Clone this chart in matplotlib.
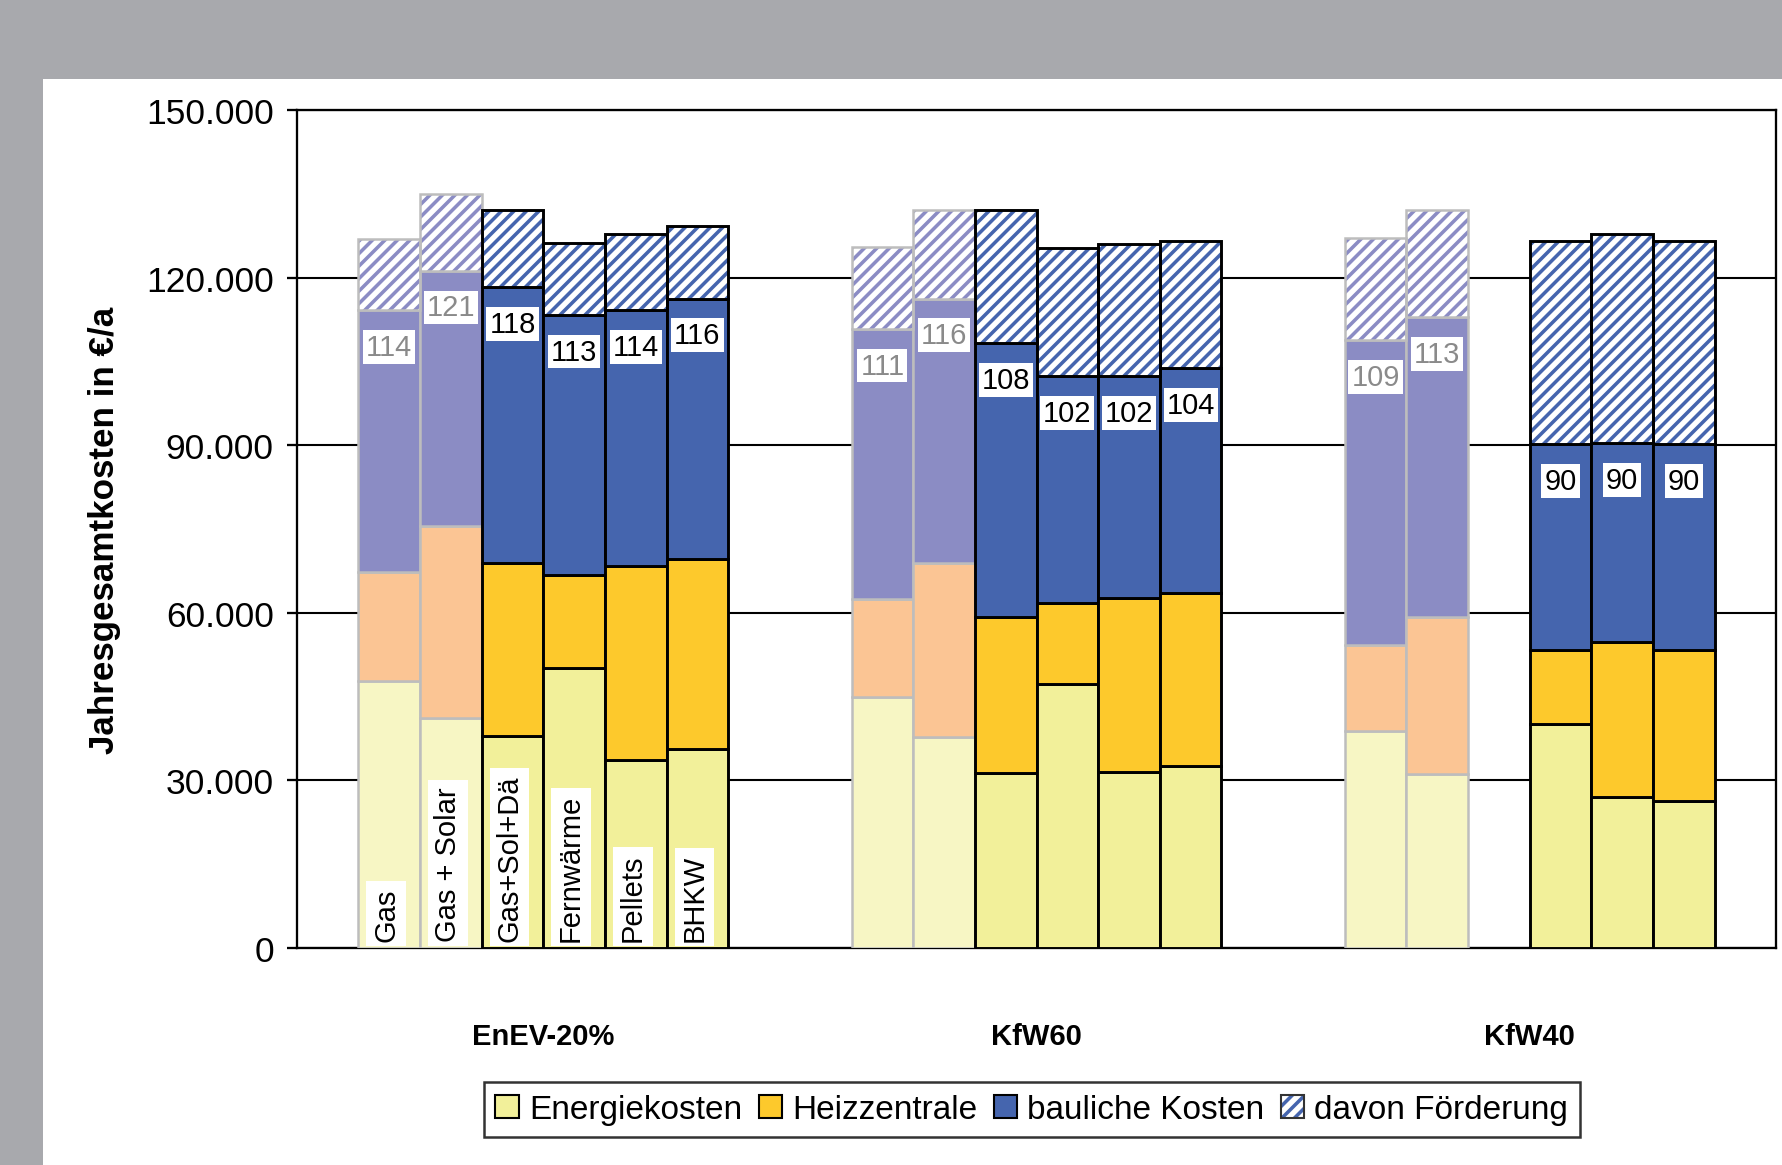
import numpy as np
import matplotlib.pyplot as plt
from matplotlib.patches import Rectangle, Patch
from matplotlib.ticker import FuncFormatter

plt.rcParams['font.family'] = ['Liberation Sans', 'DejaVu Sans']
plt.rcParams['hatch.linewidth'] = 1.7

groups = ['EnEV-20%', 'KfW60', 'KfW40']
variants = ['Gas', 'Gas + Solar', 'Gas+Sol+Dä', 'Fernwärme', 'Pellets', 'BHKW']
faded = [True, True, False, False, False, False]

# values in EUR/a, rows = groups, cols = variants (nan = no bar)
energie = np.array([[47800, 41100, 37900, 50100, 33600, 35600],
                    [45000, 37700, 31300, 47200, 31500, 32600],
                    [38900, 31100, np.nan, 40100, 27100, 26300]])
heizzentrale = np.array([[19600, 34400, 31100, 16700, 34800, 34000],
                         [17500, 31300, 27900, 14500, 31200, 30900],
                         [15400, 28100, np.nan, 13200, 27700, 27000]])
bauliche = np.array([[46800, 45800, 49400, 46600, 45800, 46700],
                     [48400, 47300, 49100, 40700, 39700, 40300],
                     [54600, 53800, np.nan, 36900, 35600, 36900]])
foerderung = np.array([[12800, 13700, 13700, 12800, 13600, 12900],
                       [14700, 15800, 23800, 23000, 23600, 22800],
                       [18300, 19100, np.nan, 36400, 37400, 36400]])
labels = [['114', '121', '118', '113', '114', '116'],
          ['111', '116', '108', '102', '102', '104'],
          ['109', '113', '', '90', '90', '90']]

col_dark = {'e': '#F2F09A', 'h': '#FDC92C', 'b': '#4565AE'}
col_fade = {'e': '#F7F6C4', 'h': '#FBC594', 'b': '#8B8CC4'}

fig = plt.figure(figsize=(11.88, 7.7733), dpi=150, facecolor='#A8A9AD')
fig.patches.append(Rectangle((0.0242, 0), 1, 0.9318, transform=fig.transFigure,
                             facecolor='white', edgecolor='none', zorder=-5))
ax = fig.add_axes([0.1665, 0.1862, 0.8303, 0.7183])
ax.set_facecolor('white')

for g in range(len(groups)):
    for v in range(len(variants)):
        if np.isnan(energie[g, v]):
            continue
        x = g * 8 + v
        cols = col_fade if faded[v] else col_dark
        ec = '#BDBDBD' if faded[v] else 'black'
        lw = 1.2 if faded[v] else 1.4
        b0 = 0
        for key, arr in (('e', energie), ('h', heizzentrale), ('b', bauliche)):
            ax.bar(x, arr[g, v], 1, bottom=b0, color=cols[key], edgecolor=ec,
                   linewidth=lw, zorder=3)
            b0 += arr[g, v]
        ax.bar(x, foerderung[g, v], 1, bottom=b0, color='white',
               edgecolor=cols['b'], hatch='////', linewidth=0, zorder=3)
        ax.bar(x, foerderung[g, v], 1, bottom=b0, fill=False, edgecolor=ec,
               linewidth=lw, zorder=4)
        tc = '#8A8A8A' if faded[v] else 'black'
        ax.text(x, b0 - 6600, labels[g][v], ha='center', va='center', fontsize=14,
                color=tc, zorder=5,
                bbox=dict(boxstyle='square,pad=0.1', fc='white', ec='none'))
        if g == 0:
            ax.text(x - 0.05, 1300, variants[v], rotation=90, ha='center',
                    va='bottom', fontsize=14, zorder=5,
                    bbox=dict(boxstyle='square,pad=0.2', fc='white', ec='none'))

for g, name in enumerate(groups):
    ax.text(g * 8 + 2.5, -15700, name, ha='center', va='center', fontsize=14,
            fontweight='bold', clip_on=False)

ax.set_xlim(-1.5, 22.5)
ax.set_ylim(0, 150000)
ax.set_yticks(np.arange(0, 150001, 30000))
ax.yaxis.set_major_formatter(FuncFormatter(lambda v, p: f'{int(v):,}'.replace(',', '.')))
ax.tick_params(axis='y', labelsize=17, length=5, width=1.1, direction='out', pad=6)
ax.set_xticks([])
ax.grid(axis='y', color='black', linewidth=1.0, zorder=1)
ax.set_axisbelow(True)
for s in ax.spines.values():
    s.set_linewidth(1.1)
    s.set_color('black')
ax.set_ylabel('Jahresgesamtkosten in €/a', fontsize=16.8, fontweight='bold', labelpad=12)

h_fill = Patch(facecolor='white', edgecolor=col_dark['b'], hatch='////', linewidth=0)
h_edge = Patch(fill=False, edgecolor='#333333', linewidth=1)
handles = [Patch(facecolor=col_dark['e'], edgecolor='black', linewidth=1),
           Patch(facecolor=col_dark['h'], edgecolor='black', linewidth=1),
           Patch(facecolor=col_dark['b'], edgecolor='black', linewidth=1),
           (h_fill, h_edge)]
leg = fig.legend(handles, ['Energiekosten', 'Heizzentrale', 'bauliche Kosten', 'davon Förderung'],
                 loc='center', bbox_to_anchor=(0.579, 0.0477), ncol=4, fontsize=16,
                 frameon=True, fancybox=False, edgecolor='black', handlelength=0.7,
                 handleheight=0.7, handletextpad=0.3, columnspacing=0.5,
                 borderpad=0.35, borderaxespad=0)
leg.get_frame().set_linewidth(1.2)

fig.savefig('out.png', dpi=150, facecolor=fig.get_facecolor())
